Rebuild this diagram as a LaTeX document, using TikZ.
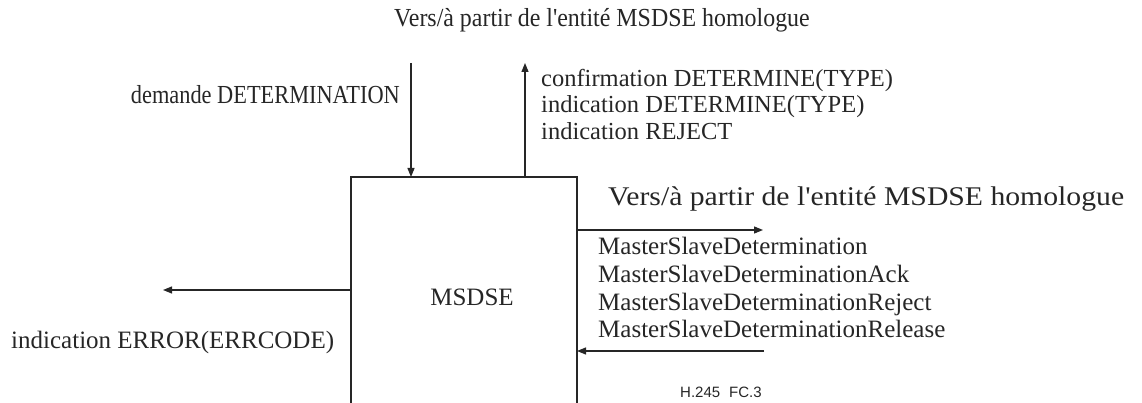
\documentclass[tikz,border=0pt]{standalone}
\usepackage{fontspec}
\setmainfont{Liberation Serif}
\newfontfamily\labsans{Liberation Sans}
\usetikzlibrary{arrows.meta}
\newcommand{\apo}{\textquotesingle}
\begin{document}
\begin{tikzpicture}[x=1pt,y=-1pt,
  sig/.style={line width=1.2pt,black!85,-{Triangle[length=9pt,width=7pt]}},
  lbl/.style={inner sep=0pt,font=\fontsize{25}{28}\selectfont,text=black!85},
  every node/.style={inner sep=0pt}]
\useasboundingbox (0,0) rectangle (1142,403);
% box (open at bottom)
\coordinate (bl) at (351,403);
\coordinate (tl) at (351,177);
\coordinate (tr) at (577,177);
\coordinate (br) at (577,403);
\draw[line width=1.2pt,black!85] (bl) -- (tl) -- (tr) -- (br);
\node[lbl] (msdse) at (472,297) {MSDSE};
% top signals
\coordinate (dtop) at (411,63);
\coordinate (dbot) at (411,177);
\draw[sig] (dtop) -- (dbot);
\coordinate (ubot) at (525,177);
\coordinate (utop) at (525,63);
\draw[sig] (ubot) -- (utop);
\node[lbl,anchor=east,font=\fontsize{26}{28}\selectfont] (dem) at (400,95) {\scalebox{0.86}[1]{demande DETERMINATION}};
\node[lbl,anchor=north west,align=left,font=\fontsize{24.5}{26.5}\selectfont] (conf) at (541,69)
  {confirmation DETERMINE(TYPE)\\indication DETERMINE(TYPE)\\indication REJECT};
\node[lbl,font=\fontsize{26}{28}\selectfont] (top) at (602,20) {\scalebox{0.92}[1]{Vers/à partir de l\apo entité MSDSE homologue}};
% left signal
\coordinate (lstart) at (351,290);
\coordinate (lend) at (163,290);
\draw[sig] (lstart) -- (lend);
\node[lbl,anchor=west] (err) at (11,342) {indication ERROR(ERRCODE)};
% right signals
\coordinate (rs) at (577,230);
\coordinate (re) at (763,230);
\draw[sig] (rs) -- (re);
\node[lbl,anchor=west,font=\fontsize{27}{30}\selectfont] (peer) at (608,199) {\scalebox{1.1}[1]{Vers/à partir de l\apo entité MSDSE homologue}};
\node[lbl,anchor=north west,align=left,font=\fontsize{25}{27.8}\selectfont] (msgs) at (598,237)
  {MasterSlaveDetermination\\MasterSlaveDeterminationAck\\MasterSlaveDeterminationReject\\MasterSlaveDeterminationRelease};
\coordinate (ls) at (764,351);
\coordinate (le) at (577,351);
\draw[sig] (ls) -- (le);
\node[anchor=west,font=\labsans\fontsize{15}{18}\selectfont,text=black!85] (fig) at (680,392) {H.245\hspace{0.6em}FC.3};
\end{tikzpicture}
\end{document}
